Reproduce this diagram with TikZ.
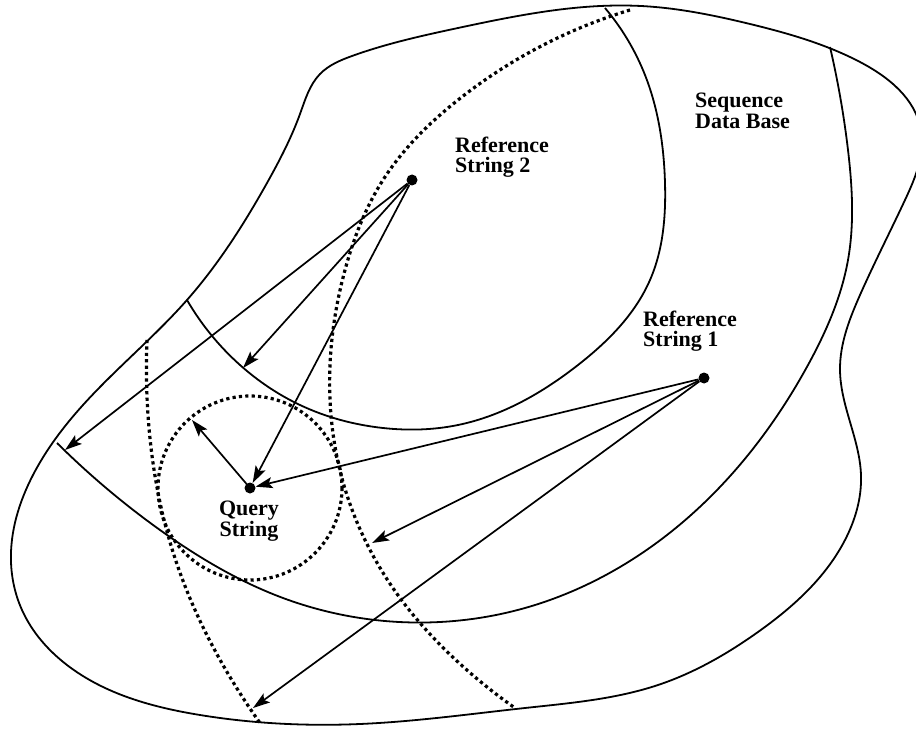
\documentclass[tikz,border=0pt]{standalone}
\usepackage{fontspec}
\setmainfont{Liberation Serif}
\usetikzlibrary{arrows.meta,hobby}
\begin{document}
\begin{tikzpicture}[x=1pt,y=-1pt,
  solidline/.style={line width=1.8pt},
  dotline/.style={line width=3.2pt, dash pattern=on 3.2pt off 3.2pt},
  arr/.style={line width=1.7pt, -{Stealth[length=17pt,width=11pt,inset=3.5pt]}},
  dot/.style={circle, fill=black, inner sep=0pt, minimum size=11pt},
  lbl/.style={font=\fontsize{22}{20.5}\selectfont\bfseries, align=left, inner sep=0pt}]
\useasboundingbox (0,0) rectangle (916,730);
\clip (0,0) rectangle (916,730);
% outer boundary
\draw[solidline, use Hobby shortcut, closed=true]
 (11,562) .. (33,475) .. (83,405) .. (187,300) .. (267,183) .. (300,114)
 .. (320,74) .. (352,56) .. (458,28) .. (641,6) .. (750,24) .. (860,62)
 .. (921,130) .. (905,200) .. (860,295) .. (840,370) .. (861,475)
 .. (845,540) .. (758,632) .. (658,685) .. (525,708) .. (360,724)
 .. (200,715) .. (67,665) .. (22,610);
% inner solid curves
\draw[solidline, use Hobby shortcut]
 (605,8) .. (645,75) .. (665,183) .. (650,280) .. (578,365)
 .. (458,425) .. (383,428) .. (300,405) .. (240,365) .. (187,300);
\draw[solidline, use Hobby shortcut]
 (830,47) .. (848,150) .. (848,260) .. (808,365) .. (691,515)
 .. (525,608) .. (440,622) .. (283,598) .. (160,530) .. (57,443);
% dotted curves
\draw[dotline, use Hobby shortcut]
 (630,10) .. (458,100) .. (383,180) .. (345,270) .. (330,365)
 .. (343,482) .. (400,598) .. (458,662) .. (515,708);
\draw[dotline, use Hobby shortcut]
 (147,340) .. (148,415) .. (173,552) .. (233,682) .. (260,723);
\draw[dotline] (250,488) circle[radius=92];
% points
\node[dot] (r2) at (412,180) {};
\node[dot] (r1) at (704,378) {};
\node[dot] (q) at (250,488) {};
\coordinate (t1) at (65,450);
\coordinate (t2) at (243,368);
\coordinate (t3) at (372,543);
\coordinate (t4) at (253,708);
\coordinate (t5) at (192,420);
% arrows
\draw[arr] (r2) -- (t1);
\draw[arr] (r2) -- (t2);
\draw[arr] (r2) -- (q);
\draw[arr] (r1) -- (q);
\draw[arr] (r1) -- (t3);
\draw[arr] (r1) -- (t4);
\draw[arr] (q.center) -- (t5);
% labels
\node[lbl, anchor=west] (l2) at (455,157) {Reference\\String 2};
\node[lbl, anchor=west] (ldb) at (695,111) {Sequence\\Data Base};
\node[lbl, anchor=west] (l1) at (643,331) {Reference\\String 1};
\node[lbl, align=center] (lq) at (249,521) {Query\\String};
\end{tikzpicture}
\end{document}
